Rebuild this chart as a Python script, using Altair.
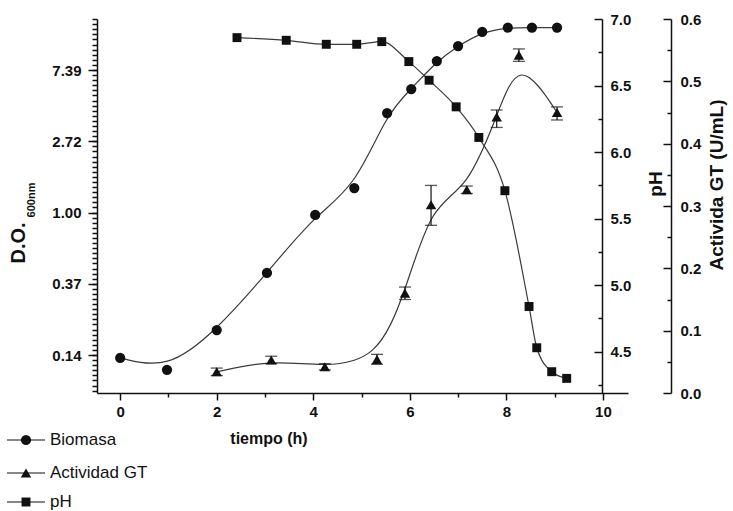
import math

import altair as alt
import pandas as pd

# --- measured series -------------------------------------------------------
# Biomass (optical density at 600 nm)
time_bio = [0.0, 0.97, 2.0, 3.04, 4.04, 4.85, 5.53, 6.03, 6.56, 7.0, 7.5, 8.03, 8.53, 9.05]
od600 = [0.13, 0.11, 0.192, 0.428, 0.966, 1.41, 4.04, 5.66, 8.38, 10.35, 12.6, 13.4, 13.4, 13.4]

# pH of the culture
time_ph = [2.42, 3.44, 4.27, 4.9, 5.42, 5.98, 6.4, 6.96, 7.43, 7.97, 8.47, 8.63, 8.94, 9.25]
ph_vals = [6.86, 6.84, 6.81, 6.81, 6.83, 6.68, 6.54, 6.34, 6.11, 5.71, 4.84, 4.53, 4.35, 4.30]

# GT activity (U/mL) with error bar limits
time_gt = [2.0, 3.13, 4.24, 5.32, 5.9, 6.44, 7.18, 7.8, 8.26, 9.05]
gt_act = [0.034, 0.053, 0.042, 0.054, 0.16, 0.302, 0.326, 0.443, 0.542, 0.45]
gt_low = [0.028, 0.047, 0.037, 0.046, 0.150, 0.269, 0.320, 0.426, 0.532, 0.438]
gt_high = [0.040, 0.059, 0.047, 0.062, 0.170, 0.333, 0.332, 0.454, 0.552, 0.459]

# axis ticks
x_major_ticks = [0, 2, 4, 6, 8, 10]
x_minor_ticks = [1, 3, 5, 7, 9]
od_ticks = [math.exp(k) for k in (-2, -1, 0, 1, 2)]          # 0.14 ... 7.39
od_minor = [math.exp(k / 14) for k in range(-35, 39)]
ph_ticks = [4.5, 5.0, 5.5, 6.0, 6.5, 7.0]
ph_minor = [4.25, 4.75, 5.25, 5.75, 6.25, 6.75]
gt_ticks = [0.0, 0.1, 0.2, 0.3, 0.4, 0.5, 0.6]
gt_minor = [0.05, 0.15, 0.25, 0.35, 0.45, 0.55]

legend_names = ["Biomasa", "Actividad GT", "pH"]
legend_shapes = ["circle", "triangle-up", "square"]

bio = pd.DataFrame({"t": time_bio, "od": od600})
ph = pd.DataFrame({"t": time_ph, "ph": ph_vals})
gt = pd.DataFrame({"t": time_gt, "gt": gt_act, "lo": gt_low, "hi": gt_high})

# --- styling ---------------------------------------------------------------
W, H = 531, 374
FONT = "Liberation Sans, Arial, sans-serif"
INK = "#111111"
CURVE = "#3a3a3a"

X_DOMAIN = [-0.48, 10.52]
OD_DOMAIN = [math.exp(-2.533), math.exp(2.716)]
PH_DOMAIN = [4.19, 7.0]
GT_DOMAIN = [0.0, 0.6]

label_style = dict(labelFont=FONT, labelFontSize=15, labelFontWeight="bold", labelColor=INK)
line_style = dict(domainColor=INK, tickColor=INK, domainWidth=1.5, tickWidth=1.5, grid=False, title=None)

x_major_axis = alt.Axis(orient="bottom", values=x_major_ticks, tickSize=7, labelPadding=4,
                        **label_style, **line_style)
x_minor_axis = alt.Axis(orient="bottom", values=x_minor_ticks, tickSize=4, labels=False,
                        domain=False, **line_style)

od_major_axis = alt.Axis(orient="left", values=od_ticks, format=".2f", tickSize=9,
                         labelPadding=7, labelOverlap=False, **label_style, **line_style)
od_minor_axis = alt.Axis(orient="left", values=od_minor, tickSize=5, labels=False,
                         domain=False, **line_style)

# right-hand axes: ticks point inward toward the plot, labels sit outside
ph_main_axis = alt.Axis(orient="right", offset=-26, values=ph_ticks, format=".1f", ticks=False,
                        labelPadding=8, **label_style, **line_style)
ph_tick_axis = alt.Axis(orient="right", offset=-34, values=ph_ticks, tickSize=8, labels=False,
                        domain=False, **line_style)
ph_minor_axis = alt.Axis(orient="right", offset=-30, values=ph_minor, tickSize=4, labels=False,
                         domain=False, **line_style)

gt_main_axis = alt.Axis(orient="right", offset=43, values=gt_ticks, format=".1f", ticks=False,
                        labelPadding=9, **label_style, **line_style)
gt_tick_axis = alt.Axis(orient="right", offset=35, values=gt_ticks, tickSize=8, labels=False,
                        domain=False, **line_style)
gt_minor_axis = alt.Axis(orient="right", offset=39, values=gt_minor, tickSize=4, labels=False,
                         domain=False, **line_style)


def x_enc(axis=None):
    return alt.X("t:Q", scale=alt.Scale(domain=X_DOMAIN, nice=False, zero=False), axis=axis)


def y_od(axis=None):
    return alt.Y("od:Q", scale=alt.Scale(type="log", domain=OD_DOMAIN, nice=False), axis=axis)


def y_ph(axis=None):
    return alt.Y("ph:Q", scale=alt.Scale(domain=PH_DOMAIN, nice=False, zero=False), axis=axis)


def y_gt(field, axis=None):
    return alt.Y(f"{field}:Q", scale=alt.Scale(domain=GT_DOMAIN, nice=False, zero=False), axis=axis)


# --- biomass ---------------------------------------------------------------
bio_line = alt.Chart(bio).mark_line(interpolate="basis", color=CURVE, strokeWidth=1.2).encode(
    x=x_enc(x_major_axis), y=y_od(od_major_axis))
bio_pts = alt.Chart(bio).mark_point(shape="circle", filled=True, size=105, color=INK, opacity=1).encode(
    x=x_enc(x_minor_axis), y=y_od(od_minor_axis))

# --- pH --------------------------------------------------------------------
ph_line = alt.Chart(ph).mark_line(interpolate="monotone", color=CURVE, strokeWidth=1.2).encode(
    x=x_enc(), y=y_ph(ph_main_axis))
ph_pts = alt.Chart(ph).mark_point(shape="square", filled=True, size=80, color=INK, opacity=1).encode(
    x=x_enc(), y=y_ph(ph_tick_axis))
ph_minor_layer = alt.Chart(ph).mark_point(opacity=0).encode(
    x=x_enc(), y=y_ph(ph_minor_axis))

# --- GT activity -------------------------------------------------------------
gt_line = alt.Chart(gt).mark_line(interpolate="basis", color=CURVE, strokeWidth=1.2).encode(
    x=x_enc(), y=y_gt("gt", gt_main_axis))
gt_err = alt.Chart(gt).mark_rule(color=INK, strokeWidth=1.2).encode(
    x=x_enc(), y=y_gt("lo", gt_minor_axis), y2="hi:Q")
gt_cap_lo = alt.Chart(gt).mark_tick(orient="horizontal", size=12, thickness=1.3, color=INK).encode(
    x=x_enc(), y=y_gt("lo"))
gt_cap_hi = alt.Chart(gt).mark_tick(orient="horizontal", size=12, thickness=1.3, color=INK).encode(
    x=x_enc(), y=y_gt("hi"))
gt_pts = alt.Chart(gt).mark_point(shape="triangle-up", filled=True, size=110, color=INK, opacity=1).encode(
    x=x_enc(), y=y_gt("gt", gt_tick_axis))


# --- axis titles -------------------------------------------------------------
def label(text, x, y, size, angle=0, weight="bold", align="center"):
    return alt.Chart(pd.DataFrame({"s": [text]})).mark_text(
        font=FONT, fontSize=size, fontWeight=weight, color=INK, angle=angle,
        align=align, baseline="middle").encode(x=alt.value(x), y=alt.value(y), text="s:N")


titles = [
    label("tiempo (h)", 172, 420, 16),
    label("pH", 559, 165, 19, angle=270),
    label("Activida GT (U/mL)", 620, 166, 19, angle=270),
    label("D.O.", -78, 224, 20, angle=270),
    label("600nm", -65, 181, 11, angle=270),
]

# --- legend (bottom left) -----------------------------------------------------
legend_layers = []
for i, (name, shape) in enumerate(zip(legend_names, legend_shapes)):
    row_y = 421 + [0, 33, 62][i]
    legend_layers.append(
        alt.Chart(pd.DataFrame({"s": [name]})).mark_rule(color=INK, strokeWidth=1.2).encode(
            x=alt.value(-90), x2=alt.value(-52), y=alt.value(row_y)))
    legend_layers.append(
        alt.Chart(pd.DataFrame({"s": [name]})).mark_point(
            shape=shape, filled=True, color=INK, opacity=1,
            size=105 if shape == "circle" else (110 if shape == "triangle-up" else 80)).encode(
            x=alt.value(-71), y=alt.value(row_y)))
    legend_layers.append(label(name, -47, row_y, 17, weight="normal", align="left"))

chart = alt.layer(
    bio_line, ph_line, gt_line,
    gt_err, gt_cap_lo, gt_cap_hi,
    ph_minor_layer, bio_pts, ph_pts, gt_pts,
    *titles, *legend_layers,
).resolve_scale(y="independent").resolve_axis(x="independent", y="independent").properties(
    width=W, height=H,
    autosize=alt.AutoSizeParams(type="none"),
    padding={"left": 97, "top": 19, "right": 733 - 97 - W, "bottom": 511 - 19 - H},
    background="white",
).configure_view(stroke=None)

chart.save("out.html", embed_options={"renderer": "svg", "actions": False})
